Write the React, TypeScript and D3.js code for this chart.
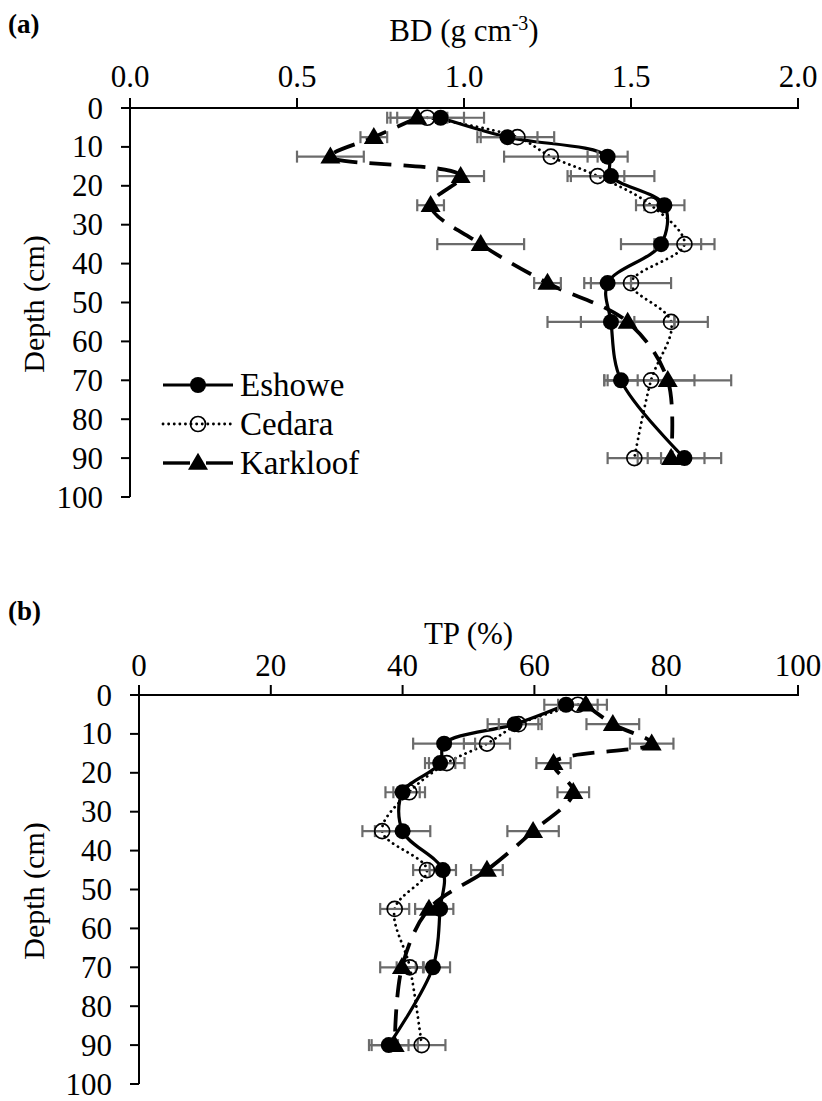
import React from "react";
import * as d3 from "d3";

const depths = [2.5, 7.5, 12.5, 17.5, 25, 35, 45, 55, 70, 90];

// Panel (a) bulk density
const bdEshowe = [0.93, 1.13, 1.43, 1.44, 1.60, 1.59, 1.43, 1.44, 1.47, 1.66];
const bdEshoweErr = [0.13, 0.09, 0.06, 0.13, 0.06, 0.12, 0.07, 0.19, 0.05, 0.11];
const bdCedara = [0.89, 1.16, 1.26, 1.40, 1.56, 1.66, 1.50, 1.62, 1.56, 1.51];
const bdCedaraErr = [0.11, 0.11, 0.14, 0.08, 0.045, 0.09, 0.12, 0.11, 0.13, 0.08];
const bdKarkloof = [0.86, 0.73, 0.60, 0.99, 0.90, 1.05, 1.25, 1.49, 1.61, 1.62];
const bdKarkloofErr = [0.09, 0.04, 0.10, 0.07, 0.04, 0.13, 0.04, 0.14, 0.19, 0.10];

// Panel (b) total porosity
const tpEshowe = [64.8, 57.0, 46.3, 45.7, 40.0, 40.0, 46.1, 45.7, 44.6, 37.9];
const tpEshoweErr = [3.3, 4.1, 4.7, 2.3, 2.6, 4.2, 2.0, 2.0, 2.6, 3.0];
const tpCedara = [66.6, 57.6, 52.8, 46.7, 41.0, 36.9, 43.7, 38.8, 41.1, 42.9];
const tpCedaraErr = [3.0, 3.0, 3.5, 2.7, 2.4, 3.0, 2.1, 2.2, 2.0, 3.6];
const tpKarkloof = [67.8, 71.9, 77.8, 62.9, 65.9, 59.8, 52.8, 44.0, 39.9, 38.8];
const tpKarkloofErr = [3.2, 4.0, 3.3, 2.6, 2.4, 3.9, 2.4, 2.1, 3.3, 3.5];

const bdTicks = [0, 0.5, 1.0, 1.5, 2.0];
const tpTicks = [0, 20, 40, 60, 80, 100];
const depthTicks = [0, 10, 20, 30, 40, 50, 60, 70, 80, 90, 100];
const seriesNames = ["Eshowe", "Cedara", "Karkloof"];

const FONT = "Liberation Serif";
const ERR = "#6b6b6b";

type S = { name: string; vals: number[]; err: number[] };

function Marker({ kind, x, y }: { kind: string; x: number; y: number }) {
  if (kind === "Eshowe") return <circle cx={x} cy={y} r={8} fill="#000" />;
  if (kind === "Cedara")
    return <circle cx={x} cy={y} r={7.5} fill="none" stroke="#000" strokeWidth={1.7} />;
  const w = 20, h = 17;
  return (
    <path
      d={`M${x},${y - h * 0.6} L${x + w / 2},${y + h * 0.4} L${x - w / 2},${y + h * 0.4} Z`}
      fill="#000"
    />
  );
}

function lineStyle(kind: string) {
  if (kind === "Eshowe") return { strokeWidth: 3.2, dash: undefined, cap: "butt" };
  if (kind === "Cedara") return { strokeWidth: 2.8, dash: "0.1 5.5", cap: "round" };
  return { strokeWidth: 3.8, dash: "22 12", cap: "butt" };
}

function Panel({
  top, x0, x1, domain, ticks, fmt, label, tag, series, legend, titleY, tickY,
}: {
  top: number; x0: number; x1: number; domain: [number, number]; ticks: number[];
  fmt: (v: number) => string; label: React.ReactNode; tag: string; series: S[]; legend: boolean;
  titleY: number; tickY: number;
}) {
  const axisY = top + 108;
  const x = d3.scaleLinear().domain(domain).range([x0, x1]);
  const y = d3.scaleLinear().domain([0, 100]).range([axisY, axisY + 389]);
  const line = d3
    .line<number>()
    .x((v) => x(v))
    .y((_, i) => y(depths[i]))
    .curve(d3.curveCatmullRom.alpha(0.5));
  const order = ["Karkloof", "Cedara", "Eshowe"];
  const sorted = order.map((n) => series.find((s) => s.name === n)!);
  return (
    <g>
      <text x={8} y={top + 33} fontSize={27} fontWeight="bold">{tag}</text>
      <text x={(x0 + x1) / 2} y={titleY} fontSize={31} textAnchor="middle">{label}</text>
      {ticks.map((t) => (
        <g key={t}>
          <line x1={x(t)} x2={x(t)} y1={axisY - 10} y2={axisY} stroke="#000" strokeWidth={2} />
          <text x={x(t)} y={tickY} fontSize={31} textAnchor="middle">{fmt(t)}</text>
        </g>
      ))}
      <line x1={x0 - 1} x2={x1 + 1} y1={axisY} y2={axisY} stroke="#000" strokeWidth={2} />
      <line x1={x0} x2={x0} y1={axisY - 10} y2={y(100)} stroke="#000" strokeWidth={2} />
      {depthTicks.map((t) => (
        <g key={t}>
          <line x1={x0 - 9} x2={x0} y1={y(t)} y2={y(t)} stroke="#000" strokeWidth={2} />
          <text x={x0 - 27} y={y(t) + 10.5} fontSize={31} textAnchor="end">{t}</text>
        </g>
      ))}
      <text
        transform={`translate(${44},${axisY + 196}) rotate(-90)`}
        fontSize={30} textAnchor="middle"
      >Depth (cm)</text>
      {sorted.map((s) => {
        const st = lineStyle(s.name);
        return (
          <g key={s.name}>
            <path d={line(s.vals) || ""} fill="none" stroke="#000" strokeWidth={st.strokeWidth}
              strokeDasharray={st.dash} strokeLinecap={st.cap as any} />
          </g>
        );
      })}
      {sorted.map((s) => (
        <g key={s.name + "e"}>
          {s.vals.map((v, i) => {
            const yy = y(depths[i]);
            const a = x(v - s.err[i]), b = x(v + s.err[i]);
            return (
              <g key={i} stroke={ERR} strokeWidth={2.2}>
                <line x1={a} x2={b} y1={yy} y2={yy} />
                <line x1={a} x2={a} y1={yy - 6} y2={yy + 6} />
                <line x1={b} x2={b} y1={yy - 6} y2={yy + 6} />
              </g>
            );
          })}
        </g>
      ))}
      {sorted.map((s) => (
        <g key={s.name + "m"}>
          {s.vals.map((v, i) => (
            <Marker key={i} kind={s.name} x={x(v)} y={y(depths[i])} />
          ))}
        </g>
      ))}
      {legend &&
        seriesNames.map((n, i) => {
          const ly = top + 385 + i * 39;
          const st = lineStyle(n);
          return (
            <g key={n}>
              {n === "Karkloof" ? (
                <>
                  <line x1={163} x2={190} y1={ly} y2={ly} stroke="#000" strokeWidth={3.4} />
                  <line x1={206} x2={233} y1={ly} y2={ly} stroke="#000" strokeWidth={3.4} />
                </>
              ) : (
                <line x1={163} x2={233} y1={ly} y2={ly} stroke="#000" strokeWidth={st.strokeWidth}
                  strokeDasharray={st.dash} strokeLinecap={st.cap as any} />
              )}
              <Marker kind={n} x={198} y={ly} />
              <text x={240} y={ly + 11} fontSize={33}>{n}</text>
            </g>
          );
        })}
    </g>
  );
}

export default function App() {
  const bdSeries: S[] = [
    { name: "Eshowe", vals: bdEshowe, err: bdEshoweErr },
    { name: "Cedara", vals: bdCedara, err: bdCedaraErr },
    { name: "Karkloof", vals: bdKarkloof, err: bdKarkloofErr },
  ];
  const tpSeries: S[] = [
    { name: "Eshowe", vals: tpEshowe, err: tpEshoweErr },
    { name: "Cedara", vals: tpCedara, err: tpCedaraErr },
    { name: "Karkloof", vals: tpKarkloof, err: tpKarkloofErr },
  ];
  return (
    <svg width={822} height={1101} fontFamily={FONT}
      style={{ position: "absolute", left: 0, top: 0, background: "#fff", fontFamily: "'Liberation Serif', serif" }}>
      <rect width={822} height={1101} fill="#fff" />
      <Panel top={0} x0={130} x1={798} domain={[0, 2]} ticks={bdTicks} fmt={(v) => v.toFixed(1)}
        label={<>BD (g cm<tspan dy={-11} fontSize={20}>-3</tspan><tspan dy={11}>)</tspan></>}
        tag="(a)" series={bdSeries} legend={true} titleY={41} tickY={87} />
      <Panel top={587} x0={139} x1={798} domain={[0, 100]} ticks={tpTicks} fmt={(v) => String(v)}
        label="TP (%)" tag="(b)" series={tpSeries} legend={false} titleY={644} tickY={676} />
    </svg>
  );
}
